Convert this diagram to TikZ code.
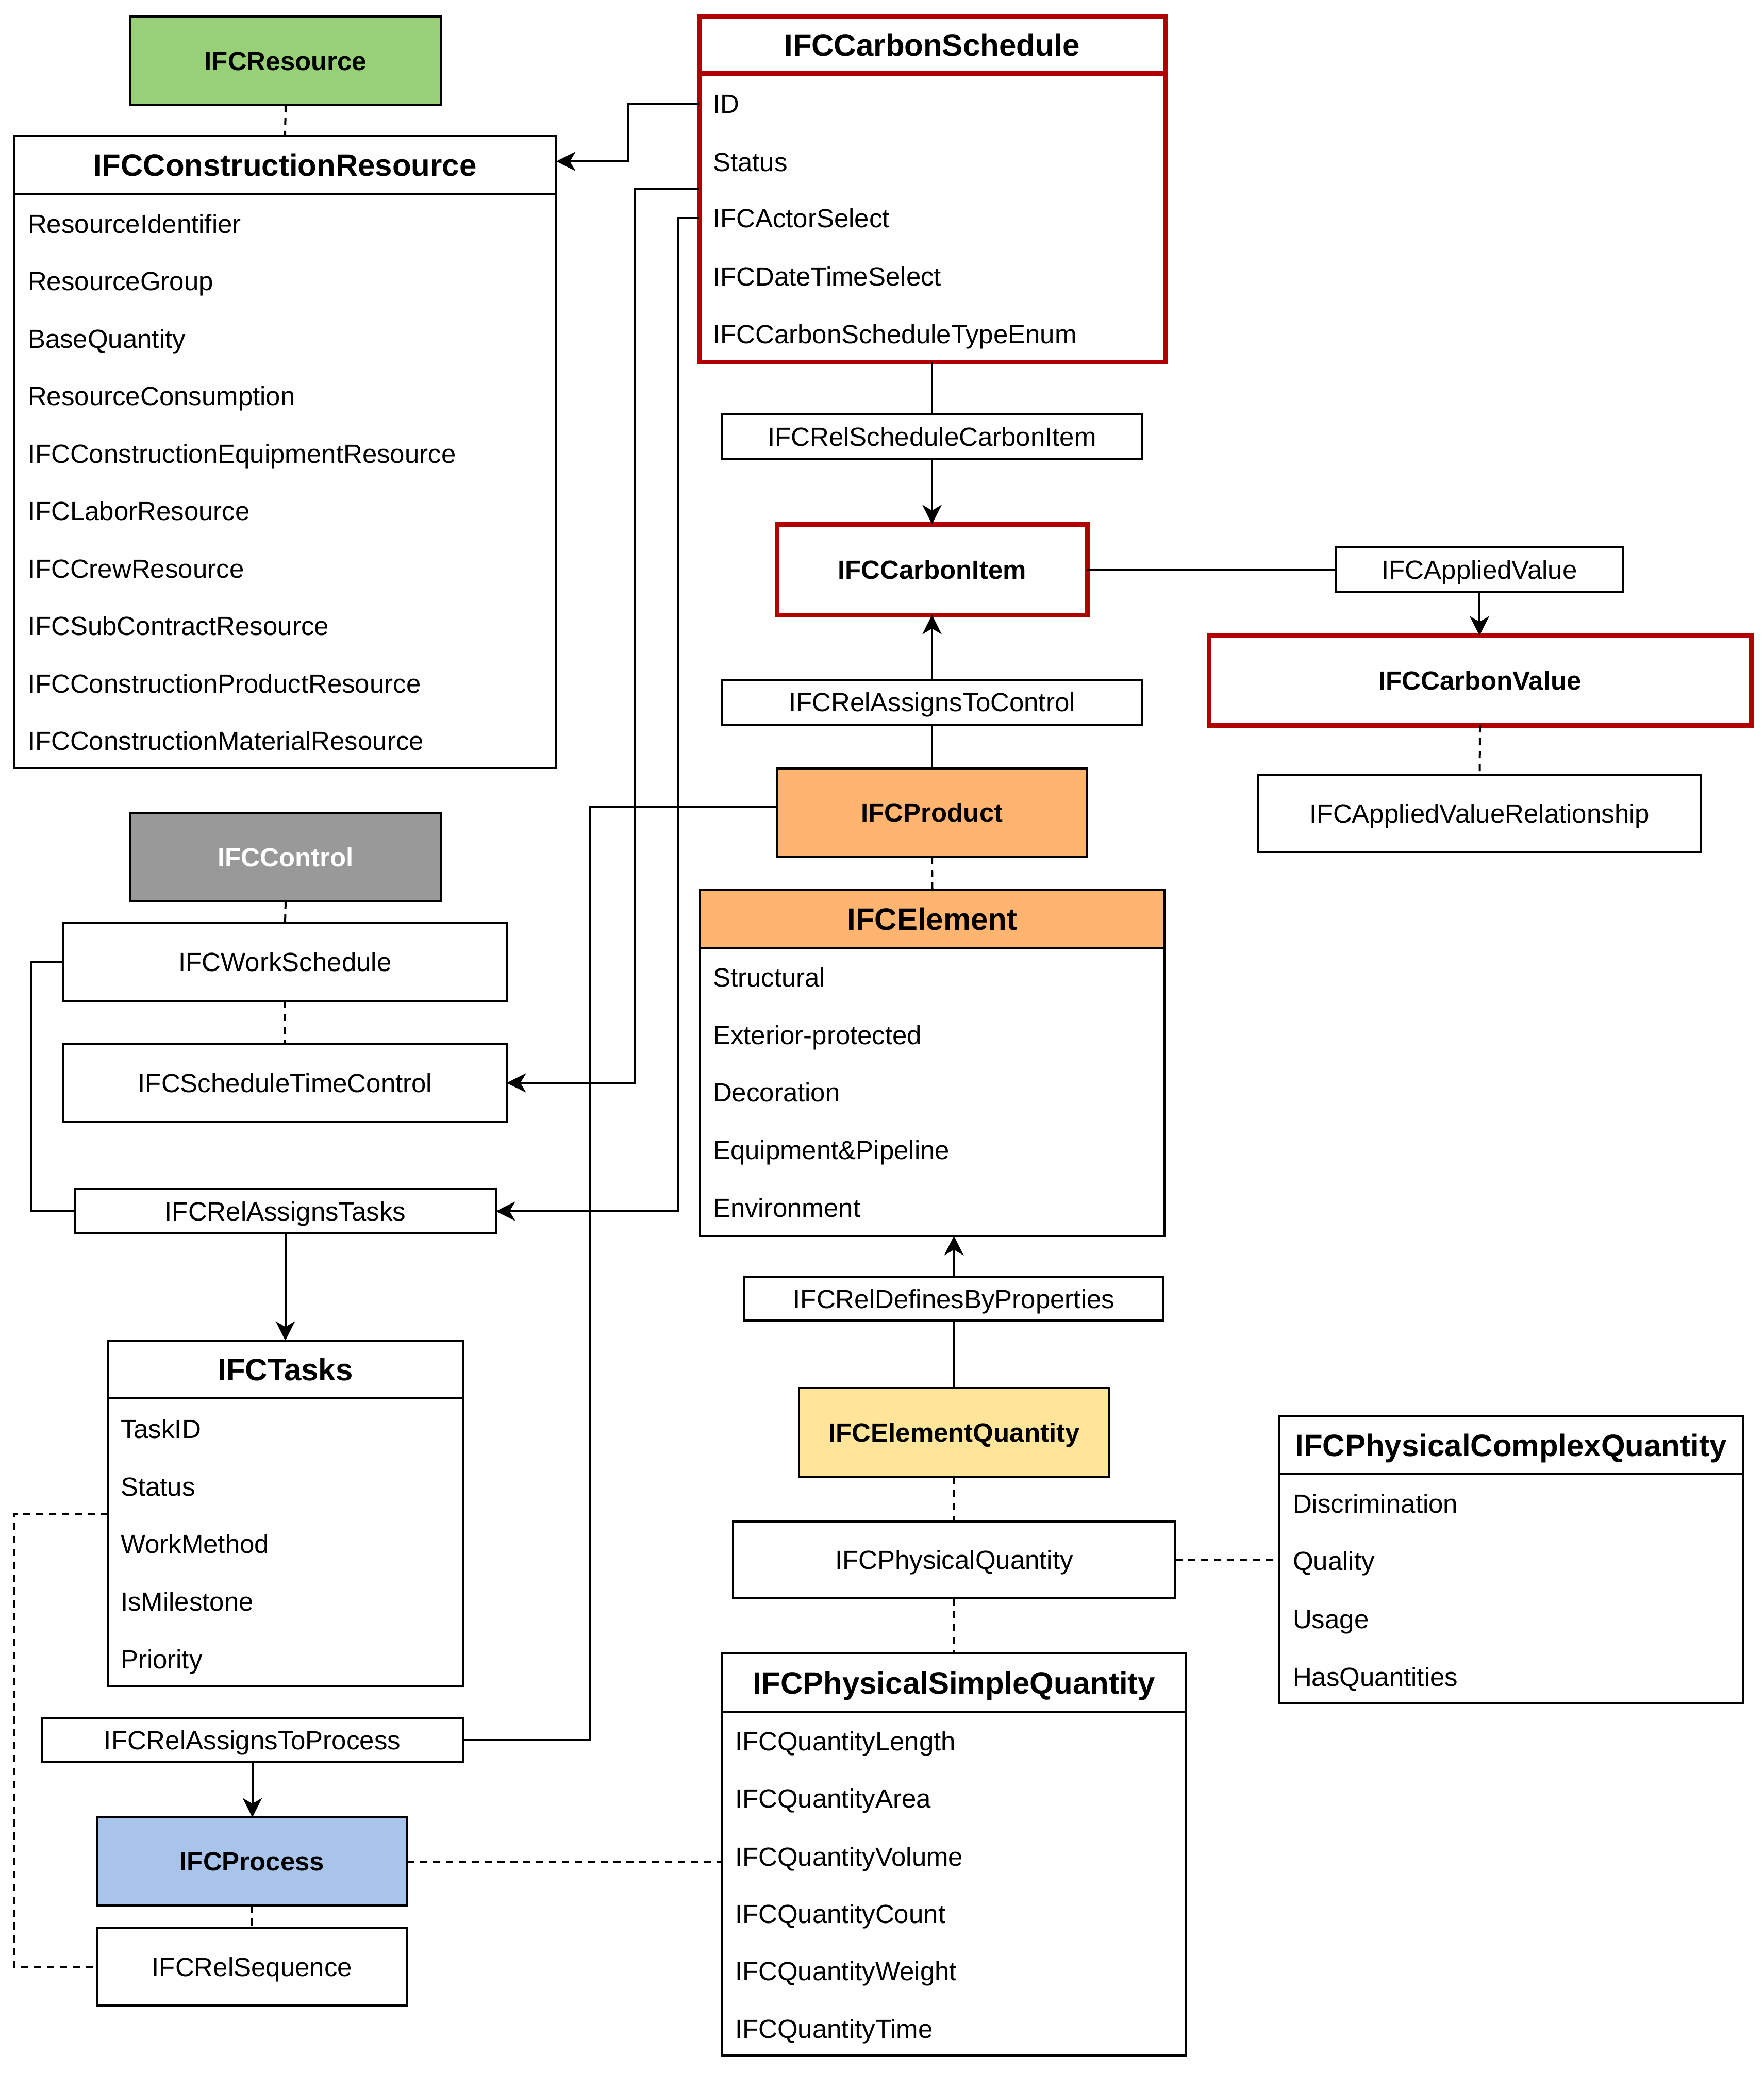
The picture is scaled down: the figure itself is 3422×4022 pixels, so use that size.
\documentclass[tikz,border=0pt]{standalone}
\usepackage{fontspec}
\setmainfont{Liberation Sans}
\usetikzlibrary{arrows.meta}
\definecolor{cgreen}{HTML}{97D077}
\definecolor{corange}{HTML}{FFB570}
\definecolor{cyellow}{HTML}{FFE599}
\definecolor{cblue}{HTML}{A9C4EB}
\definecolor{cgrey}{HTML}{999999}
\definecolor{cred}{HTML}{B20000}
\newcommand\myBody{\fontsize{10.2}{12}\selectfont}
\newcommand\myBold{\fontsize{10.2}{12}\selectfont\bfseries}
\newcommand\myHead{\fontsize{12}{14}\selectfont\bfseries}
\tikzset{
  wh/.style 2 args={minimum width=#1*0.2pt, minimum height=#2*0.2pt},
  bx/.style={draw=black, line width=0.8pt, inner sep=0pt, outer sep=0pt, font=\myBody, text=black, text height=7.3pt, text depth=0pt},
  rbx/.style={bx, draw=cred, line width=1.8pt},
  hd/.style={font=\myHead, text height=8.6pt},
  bt/.style={font=\myBold},
  row/.style={anchor=west, inner sep=0pt, outer sep=0pt, font=\myBody, text height=7.3pt, text depth=0pt},
  conn/.style={line width=0.8pt, draw=black},
  arr/.style={conn, -{Stealth[length=7.5pt,width=7.5pt,inset=2.2pt]}},
  dsh/.style={conn, dash pattern=on 2.8pt off 2.2pt},
}
\begin{document}
\begin{tikzpicture}[x=0.2pt,y=-0.2pt]
\useasboundingbox (0,0) rectangle (3422,4022);

% ---------- left column ----------
\node[bx, bt, fill=cgreen, wh={602}{172}] (res) at (554,118) {IFCResource};
\node[bx, wh={1052}{1226}] (cr) at (553,877) {};
\node[bx, hd, wh={1052}{112}] (crh) at (553,320) {IFCConstructionResource};
\node[row] (cr1) at (54,434) {ResourceIdentifier};
\node[row] (cr2) at (54,545) {ResourceGroup};
\node[row] (cr3) at (54,657) {BaseQuantity};
\node[row] (cr4) at (54,768) {ResourceConsumption};
\node[row] (cr5) at (54,880) {IFCConstructionEquipmentResource};
\node[row] (cr6) at (54,991) {IFCLaborResource};
\node[row] (cr7) at (54,1103) {IFCCrewResource};
\node[row] (cr8) at (54,1214) {IFCSubContractResource};
\node[row] (cr9) at (54,1326) {IFCConstructionProductResource};
\node[row] (cr10) at (54,1437) {IFCConstructionMaterialResource};

\node[bx, bt, fill=cgrey, text=white, wh={602}{172}] (ctrl) at (554,1663) {IFCControl};
\node[bx, wh={860}{151}] (ws) at (553,1866.5) {IFCWorkSchedule};
\node[bx, wh={860}{152}] (stc) at (553,2101) {IFCScheduleTimeControl};
\node[bx, wh={817}{86}] (rat) at (553.5,2350) {IFCRelAssignsTasks};

\node[bx, wh={689}{671}] (tasks) at (553.5,2936.5) {};
\node[bx, hd, wh={689}{111}] (tasksh) at (553.5,2656.5) {IFCTasks};
\node[row] (t1) at (234,2772) {TaskID};
\node[row] (t2) at (234,2884) {Status};
\node[row] (t3) at (234,2995) {WorkMethod};
\node[row] (t4) at (234,3107) {IsMilestone};
\node[row] (t5) at (234,3219) {Priority};

\node[bx, wh={817}{86}] (ratp) at (489.5,3376) {IFCRelAssignsToProcess};
\node[bx, bt, fill=cblue, wh={602}{171}] (proc) at (489,3611.5) {IFCProcess};
\node[bx, wh={602}{150}] (rseq) at (489,3816) {IFCRelSequence};

% ---------- middle column ----------
\node[rbx, wh={904}{671}] (cs) at (1808,367.5) {};
\node[rbx, hd, wh={904}{111}] (csh) at (1808,87.5) {IFCCarbonSchedule};
\node[row] (cs1) at (1383,201) {ID};
\node[row] (cs2) at (1383,314) {Status};
\node[row] (cs3) at (1383,423) {IFCActorSelect};
\node[row] (cs4) at (1383,536) {IFCDateTimeSelect};
\node[row] (cs5) at (1383,648) {IFCCarbonScheduleTypeEnum};

\node[bx, wh={816}{86}] (rsci) at (1808,847) {IFCRelScheduleCarbonItem};
\node[rbx, bt, wh={602}{176}] (ci) at (1808,1105) {IFCCarbonItem};
\node[bx, wh={816}{87}] (ratc) at (1808,1362.5) {IFCRelAssignsToControl};
\node[bx, bt, fill=corange, wh={602}{171}] (prod) at (1808,1576.5) {IFCProduct};

\node[bx, wh={901}{671}] (el) at (1808.5,2062.5) {};
\node[bx, hd, fill=corange, wh={901}{112}] (elh) at (1808.5,1783) {IFCElement};
\node[row] (e1) at (1383,1896) {Structural};
\node[row] (e2) at (1383,2008) {Exterior-protected};
\node[row] (e3) at (1383,2119) {Decoration};
\node[row] (e4) at (1383,2231) {Equipment\&Pipeline};
\node[row] (e5) at (1383,2343) {Environment};

\node[bx, wh={813}{84}] (rdbp) at (1850.5,2520) {IFCRelDefinesByProperties};
\node[bx, bt, fill=cyellow, wh={602}{173}] (eq) at (1851,2779.5) {IFCElementQuantity};
\node[bx, wh={858}{149}] (pq) at (1851,3026.5) {IFCPhysicalQuantity};

\node[bx, wh={900}{780}] (psq) at (1851,3598) {};
\node[bx, hd, wh={900}{113}] (psqh) at (1851,3264.5) {IFCPhysicalSimpleQuantity};
\node[row] (q1) at (1426,3378) {IFCQuantityLength};
\node[row] (q2) at (1426,3489) {IFCQuantityArea};
\node[row] (q3) at (1426,3602) {IFCQuantityVolume};
\node[row] (q4) at (1426,3713) {IFCQuantityCount};
\node[row] (q5) at (1426,3824) {IFCQuantityWeight};
\node[row] (q6) at (1426,3936) {IFCQuantityTime};

% ---------- right column ----------
\node[bx, wh={556}{87}] (av) at (2870,1105.5) {IFCAppliedValue};
\node[rbx, bt, wh={1052}{174}] (cv) at (2871,1320) {IFCCarbonValue};
\node[bx, wh={859}{150}] (avr) at (2870.5,1578) {IFCAppliedValueRelationship};

\node[bx, wh={900}{557}] (pcq) at (2931,3026.5) {};
\node[bx, hd, wh={900}{112}] (pcqh) at (2931,2804) {IFCPhysicalComplexQuantity};
\node[row] (p1) at (2508,2917) {Discrimination};
\node[row] (p2) at (2508,3028) {Quality};
\node[row] (p3) at (2508,3141) {Usage};
\node[row] (p4) at (2508,3253) {HasQuantities};

% ---------- connectors ----------
\draw[dsh] (res.south) -- (crh.north);
\draw[arr] (cs1.west -| cs.west) -- ++(-137,0) |- (crh.east |- 0,313);
\draw[arr] (cs.west |- 0,366) -- (1231,366) |- (stc.east);
\draw[arr] (cs3.west -| cs.west) -- (1315,423) |- (rat.east);

\draw[conn] (cs.south) -- (rsci.north);
\draw[arr] (rsci.south) -- (ci.north);
\draw[conn] (ci.east) -- (av.west);
\draw[arr] (av.south) -- (av.south |- cv.north);
\draw[dsh] (cv.south) -- (avr.north);
\draw[conn] (prod.north) -- (ratc.south);
\draw[arr] (ratc.north) -- (ci.south);
\draw[conn] (prod.west |- 0,1565) -- (1144,1565) |- (ratp.east);
\draw[dsh] (prod.south) -- (elh.north);
\draw[arr] (rdbp.north) -- (rdbp.north |- el.south);
\draw[conn] (eq.north) -- (eq.north |- rdbp.south);
\draw[dsh] (eq.south) -- (pq.north);
\draw[dsh] (pq.east) -- (pcq.west);
\draw[dsh] (pq.south) -- (psqh.north);
\draw[dsh] (proc.east) -- (proc.east -| psq.west);

\draw[dsh] (ctrl.south) -- (ws.north);
\draw[dsh] (ws.south) -- (stc.north);
\draw[conn] (ws.west) -- (61,1866.5) |- (rat.west);
\draw[arr] (rat.south) -- (tasksh.north);
\draw[dsh] (tasks.west) -- (27,2936.5) |- (rseq.west);
\draw[arr] (ratp.south) -- (ratp.south |- proc.north);
\draw[dsh] (proc.south) -- (proc.south |- rseq.north);
\end{tikzpicture}
\end{document}
